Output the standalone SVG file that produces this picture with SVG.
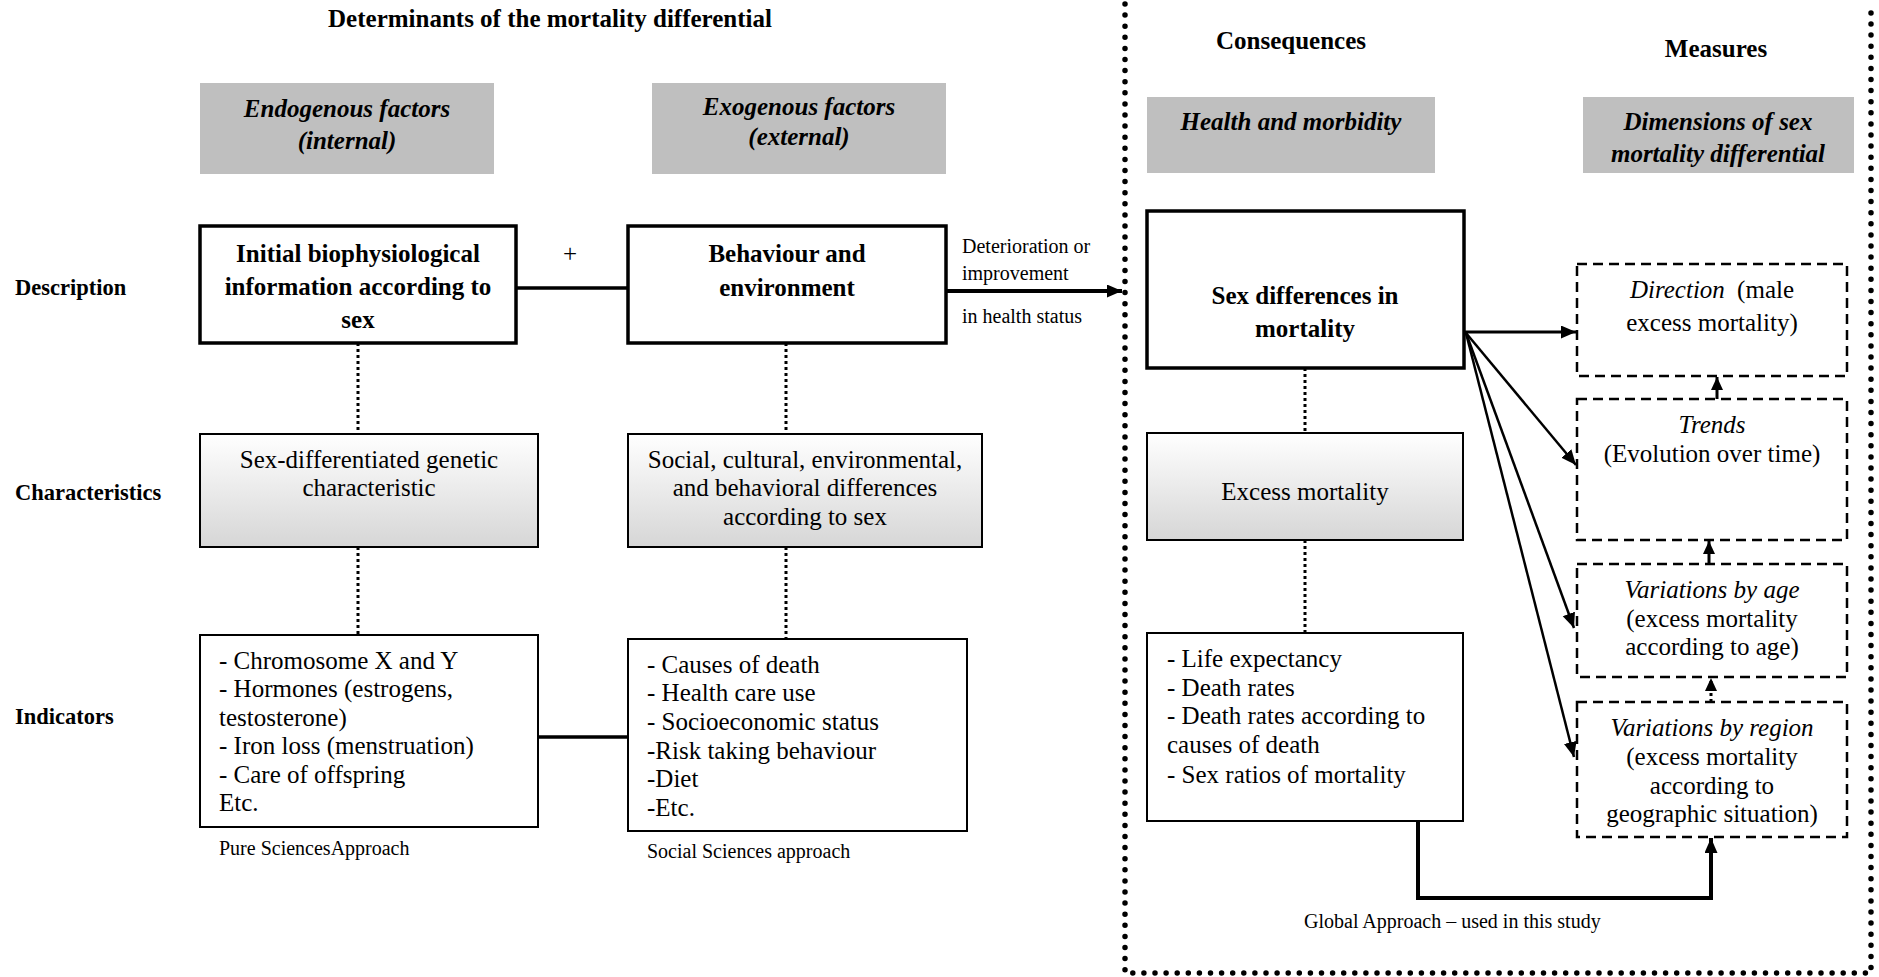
<svg xmlns="http://www.w3.org/2000/svg" width="1879" height="977" viewBox="0 0 1879 977">
<defs>
<style>
text{font-family:"Liberation Serif","Times New Roman",serif;fill:#000}
.t{font-size:25px}
.b{font-weight:bold}
.bi{font-weight:bold;font-style:italic}
.i{font-style:italic}
.lab{font-size:22.5px;font-weight:bold}
.sm{font-size:20px}
.c{text-anchor:middle}
.hdr{fill:#bfbfbf;stroke:none}
.thick{fill:#fff;stroke:#000;stroke-width:3.5}
.thin{fill:#fff;stroke:#000;stroke-width:2}
.grad{fill:url(#g);stroke:#000;stroke-width:2}
.dash{fill:#fff;stroke:#000;stroke-width:2.5;stroke-dasharray:10 6}
.dot{fill:none;stroke:#000;stroke-width:3;stroke-dasharray:3 3}
.ln{fill:none;stroke:#000}
</style>
<linearGradient id="g" x1="0" y1="0" x2="0" y2="1">
<stop offset="0" stop-color="#ffffff"/>
<stop offset="1" stop-color="#d6d6d6"/>
</linearGradient>
<marker id="ah" markerUnits="userSpaceOnUse" markerWidth="16" markerHeight="14" refX="15" refY="6.5" orient="auto">
<path d="M0,0 L15,6.5 L0,13 z" fill="#000"/>
</marker>
<marker id="as" markerUnits="userSpaceOnUse" markerWidth="14" markerHeight="14" refX="13" refY="6" orient="auto">
<path d="M0,0 L13,6 L0,12 z" fill="#000"/>
</marker>
</defs>
<rect width="1879" height="977" fill="#fff"/>

<g id="border">
<path d="M1125,4 V973 H1871 V4" fill="none" stroke="#000" stroke-width="5.5" stroke-dasharray="0 11.1" stroke-linecap="round"/>
</g>

<g id="titles">
<text class="t b c" x="550" y="27">Determinants of the mortality differential</text>
<text class="t b c" x="1291" y="49">Consequences</text>
<text class="t b c" x="1716" y="57">Measures</text>
</g>

<g id="row-labels">
<text class="lab" x="15" y="294.5">Description</text>
<text class="lab" x="15" y="499.5">Characteristics</text>
<text class="lab" x="15" y="723.5">Indicators</text>
</g>

<g id="endogenous">
<rect class="hdr" x="200" y="83" width="294" height="91"/>
<text class="t bi c" x="347" y="117">Endogenous factors</text>
<text class="t bi c" x="347" y="148.5">(internal)</text>
</g>
<g id="exogenous">
<rect class="hdr" x="652" y="83" width="294" height="91"/>
<text class="t bi c" x="799" y="115">Exogenous factors</text>
<text class="t bi c" x="799" y="144.5">(external)</text>
</g>
<g id="health">
<rect class="hdr" x="1147" y="97" width="288" height="76"/>
<text class="t bi c" x="1291" y="129.5">Health and morbidity</text>
</g>
<g id="dimensions">
<rect class="hdr" x="1583" y="97" width="271" height="76"/>
<text class="t bi c" x="1718" y="130">Dimensions of sex</text>
<text class="t bi c" x="1718" y="162">mortality differential</text>
</g>

<g id="connectors">
<line class="ln" x1="516" y1="288" x2="628" y2="288" stroke-width="3.5"/>
<line class="ln" x1="538" y1="737" x2="628" y2="737" stroke-width="3.5"/>
<line class="dot" x1="358" y1="343" x2="358" y2="434"/>
<line class="dot" x1="358" y1="547" x2="358" y2="635"/>
<line class="dot" x1="786" y1="343" x2="786" y2="434"/>
<line class="dot" x1="786" y1="547" x2="786" y2="639"/>
<line class="dot" x1="1305" y1="368" x2="1305" y2="433"/>
<line class="dot" x1="1305" y1="540" x2="1305" y2="633"/>
<line class="ln" x1="946" y1="291" x2="1122" y2="291" stroke-width="4" marker-end="url(#ah)"/>
<line class="ln" x1="1465" y1="332" x2="1576" y2="332" stroke-width="3" marker-end="url(#ah)"/>
<line class="ln" x1="1466" y1="333" x2="1576" y2="465" stroke-width="2.5" marker-end="url(#ah)"/>
<line class="ln" x1="1466" y1="333" x2="1574" y2="628" stroke-width="2.5" marker-end="url(#ah)"/>
<line class="ln" x1="1466" y1="333" x2="1574" y2="757" stroke-width="2.5" marker-end="url(#ah)"/>
<line class="ln" x1="1717" y1="399" x2="1717" y2="377" stroke-width="3" marker-end="url(#as)"/>
<line class="ln" x1="1709" y1="564" x2="1709" y2="541" stroke-width="3" marker-end="url(#as)"/>
<line class="ln" x1="1711" y1="702" x2="1711" y2="678" stroke-width="3" stroke-dasharray="3 3" marker-end="url(#as)"/>
<path class="ln" d="M1418,821 V898 H1711 V838" stroke-width="4" marker-end="url(#ah)"/>
</g>

<g id="initial">
<rect class="thick" x="200" y="226" width="316" height="117"/>
<text class="t b c" x="358" y="261.5">Initial biophysiological</text>
<text class="t b c" x="358" y="295">information according to</text>
<text class="t b c" x="358" y="327.5">sex</text>
</g>
<g id="plus">
<text class="t c" x="570" y="261.5">+</text>
</g>
<g id="behaviour">
<rect class="thick" x="628" y="226" width="318" height="117"/>
<text class="t b c" x="787" y="261.5">Behaviour and</text>
<text class="t b c" x="787" y="295.5">environment</text>
</g>
<g id="deterioration-label">
<text class="sm" x="962" y="252.5">Deterioration or</text>
<text class="sm" x="962" y="279.5">improvement</text>
<text class="sm" x="962" y="322.5">in health status</text>
</g>

<g id="sex-genetic">
<rect class="grad" x="200" y="434" width="338" height="113"/>
<text class="t c" x="369" y="468">Sex-differentiated genetic</text>
<text class="t c" x="369" y="496">characteristic</text>
</g>
<g id="social-diff">
<rect class="grad" x="628" y="434" width="354" height="113"/>
<text class="t c" x="805" y="468">Social, cultural, environmental,</text>
<text class="t c" x="805" y="496">and behavioral differences</text>
<text class="t c" x="805" y="524.5">according to sex</text>
</g>

<g id="pure-indicators">
<rect class="thin" x="200" y="635" width="338" height="192"/>
<text class="t" x="219" y="668.5">- Chromosome X and Y</text>
<text class="t" x="219" y="697">- Hormones (estrogens,</text>
<text class="t" x="219" y="725.5">testosterone)</text>
<text class="t" x="219" y="754">- Iron loss (menstruation)</text>
<text class="t" x="219" y="782.5">- Care of offspring</text>
<text class="t" x="219" y="811">Etc.</text>
<text class="sm" x="219" y="855">Pure SciencesApproach</text>
</g>
<g id="social-indicators">
<rect class="thin" x="628" y="639" width="339" height="192"/>
<text class="t" x="647" y="672.5">- Causes of death</text>
<text class="t" x="647" y="701">- Health care use</text>
<text class="t" x="647" y="729.5">- Socioeconomic status</text>
<text class="t" x="647" y="758.5">-Risk taking behaviour</text>
<text class="t" x="647" y="787">-Diet</text>
<text class="t" x="647" y="815.5">-Etc.</text>
<text class="sm" x="647" y="858">Social Sciences approach</text>
</g>

<g id="sex-differences">
<rect class="thick" x="1147" y="211" width="317" height="157"/>
<text class="t b c" x="1305" y="303.5">Sex differences in</text>
<text class="t b c" x="1305" y="337">mortality</text>
</g>
<g id="excess">
<rect class="grad" x="1147" y="433" width="316" height="107"/>
<text class="t c" x="1305" y="500">Excess mortality</text>
</g>
<g id="cons-indicators">
<rect class="thin" x="1147" y="633" width="316" height="188"/>
<text class="t" x="1167" y="667">- Life expectancy</text>
<text class="t" x="1167" y="696">- Death rates</text>
<text class="t" x="1167" y="724">- Death rates according to</text>
<text class="t" x="1167" y="753">causes of death</text>
<text class="t" x="1167" y="783">- Sex ratios of mortality</text>
</g>
<g id="global-label">
<text class="sm" x="1304" y="927.5">Global Approach – used in this study</text>
</g>

<g id="direction">
<rect class="dash" x="1577" y="264" width="270" height="112"/>
<text class="t c" x="1712" y="297.5"><tspan class="i">Direction</tspan><tspan dx="6"> (male</tspan></text>
<text class="t c" x="1712" y="331">excess mortality)</text>
</g>
<g id="trends">
<rect class="dash" x="1577" y="399" width="270" height="141"/>
<text class="t i c" x="1712" y="433">Trends</text>
<text class="t c" x="1712" y="462">(Evolution over time)</text>
</g>
<g id="age">
<rect class="dash" x="1577" y="564" width="270" height="113"/>
<text class="t i c" x="1712" y="598">Variations by age</text>
<text class="t c" x="1712" y="627">(excess mortality</text>
<text class="t c" x="1712" y="655">according to age)</text>
</g>
<g id="region">
<rect class="dash" x="1577" y="702" width="270" height="135"/>
<text class="t i c" x="1712" y="735.5">Variations by region</text>
<text class="t c" x="1712" y="764.5">(excess mortality</text>
<text class="t c" x="1712" y="793.5">according to</text>
<text class="t c" x="1712" y="821.5">geographic situation)</text>
</g>
</svg>
